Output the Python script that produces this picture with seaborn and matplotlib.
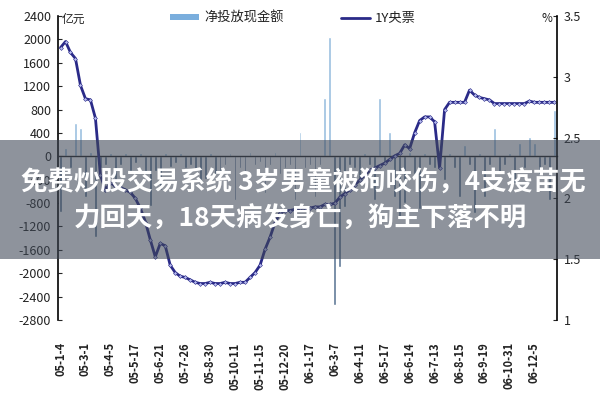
import matplotlib
matplotlib.use("Agg")
import numpy as np
import pandas as pd
import matplotlib.pyplot as plt
import seaborn as sns
from matplotlib.patches import Patch, Rectangle
from matplotlib.lines import Line2D

sns.set_style("white")
plt.rcParams["font.family"] = ["Noto Sans CJK SC", "DejaVu Sans"]
plt.rcParams["axes.unicode_minus"] = False

# weekly points, 2005-01 .. 2006-12
week = list(range(100))

# net cash injection (亿元)
net_cash = [
    -950, 150, -200, 570, 480, -700, 80, -1380, -200, -150,
    60, -460, -150, 50, -250, -120, 50, -300, -850, -250,
    -580, 60, -180, -120, 50, -200, -150, -250, -400, -380,
    60, -300, -530, -150, 50, -750, -200, -300, 80, -150,
    -100, -630, -150, 70, -300, -200, -150, -750, 410, -200,
    -150, -700, -150, 990, 2040, -2550, -1900, -870, -150, -200,
    -400, 60, -150, -750, 990, -150, 410, -700, -1040, -800,
    80, -300, -900, 60, -150, -200, 100, -400, 60, -200,
    -700, 190, -150, -970, 60, -700, -150, 480, -300, -150,
    50, -450, 220, -200, 325, 220, -300, -150, -750, 800,
]

# 1Y central bank bill yield (%)
yield_1y = [
    3.24, 3.29, 3.20, 3.15, 2.93, 2.82, 2.81, 2.66, 2.19, 2.07,
    2.13, 2.10, 2.09, 2.07, 2.05, 2.00, 1.92, 1.81, 1.66, 1.52,
    1.63, 1.61, 1.45, 1.39, 1.36, 1.35, 1.33, 1.31, 1.30, 1.30,
    1.31, 1.30, 1.30, 1.31, 1.30, 1.30, 1.31, 1.31, 1.35, 1.39,
    1.45, 1.58, 1.68, 1.80, 1.88, 1.90, 1.90, 1.91, 1.92, 1.92,
    1.92, 1.93, 1.93, 1.95, 1.95, 1.96, 2.01, 2.04, 2.07, 2.11,
    2.15, 2.19, 2.23, 2.25, 2.27, 2.29, 2.32, 2.35, 2.37, 2.44,
    2.41, 2.54, 2.64, 2.67, 2.67, 2.63, 2.25, 2.73, 2.79, 2.79,
    2.79, 2.79, 2.89, 2.85, 2.83, 2.82, 2.81, 2.78, 2.78, 2.78,
    2.78, 2.78, 2.78, 2.78, 2.80, 2.79, 2.79, 2.79, 2.79, 2.79,
]

date_labels = [
    "05-1-4", "05-3-1", "05-4-5", "05-5-17", "05-6-21", "05-7-26",
    "05-8-30", "05-10-11", "05-11-15", "05-12-20", "06-1-17", "06-3-7",
    "06-4-11", "06-5-17", "06-6-14", "06-7-13", "06-8-15", "06-9-19",
    "06-10-31", "06-12-5",
]
label_pos = week[::5]

left_ticks = [2400, 2000, 1600, 1200, 800, 400, 0, -400, -800, -1200,
              -1600, -2000, -2400, -2800]
left_tick_labels = [str(v) for v in left_ticks]
right_ticks = [1, 1.5, 2, 2.5, 3, 3.5]
right_tick_labels = ["1", "1.5", "2", "2.5", "3", "3.5"]

bar_pos = "#8fc0ea"
bar_neg = "#55789f"
line_col = "#2a2a88"
txt_col = "#222222"

df = pd.DataFrame({"week": week, "net": net_cash})
df["sign"] = np.where(df["net"] >= 0, "pos", "neg")

fig, ax = plt.subplots(figsize=(6, 4), dpi=100)
fig.subplots_adjust(left=0.0967, right=0.928, top=0.96, bottom=0.2)

sns.barplot(data=df, x="week", y="net", hue="sign",
            palette={"pos": bar_pos, "neg": bar_neg}, dodge=False,
            width=0.55, errorbar=None, legend=False, ax=ax)
ax.set_xlim(-0.5, 99.5)
ax.set_ylim(-2800, 2400)
ax.set_yticks(left_ticks, left_tick_labels)
ax.set_xlabel("")
ax.set_ylabel("")

# zero line with a tick for every week
ax.spines["bottom"].set_position(("data", 0))
ax.spines["bottom"].set_linewidth(1.0)
ax.spines["top"].set_visible(False)
ax.spines["right"].set_visible(False)
ax.spines["left"].set_linewidth(1.2)
ax.spines["left"].set_color("black")
ax.set_xticks(week)
ax.tick_params(axis="x", direction="inout", length=5, width=0.8,
               labelbottom=False)
ax.tick_params(axis="y", direction="in", length=3, pad=5,
               labelsize=9, labelcolor=txt_col)

sec = ax.secondary_xaxis("bottom")
sec.set_xticks(label_pos, date_labels, rotation=90)
sec.tick_params(length=0, pad=16, labelsize=8, labelcolor=txt_col)
for lbl in sec.get_xticklabels():
    lbl.set_fontweight("bold")
sec.spines["bottom"].set_visible(False)

ax2 = ax.twinx()
sns.lineplot(x=week, y=yield_1y, ax=ax2, color=line_col, lw=2.0,
             marker="D", markersize=2.0, markerfacecolor="#b8bdf0",
             markeredgecolor=line_col, markeredgewidth=0.4)
ax2.set_ylim(1, 3.5)
ax2.set_yticks(right_ticks, right_tick_labels)
ax2.set_ylabel("")
for s in ["top", "bottom", "left"]:
    ax2.spines[s].set_visible(False)
ax2.spines["right"].set_linewidth(1.2)
ax2.spines["right"].set_color("black")
ax2.tick_params(axis="y", direction="in", length=3, pad=5,
                labelsize=9, labelcolor=txt_col)

fig.text(62 / 600, 1 - 19 / 400, "亿元", fontsize=8.5, color=txt_col,
         ha="left", va="center")
fig.text(552 / 600, 1 - 19 / 400, "%", fontsize=8.5, color=txt_col,
         ha="right", va="center")

handles = [Patch(facecolor="#7aaedd", edgecolor="none"),
           Line2D([0], [0], color=line_col, lw=2.0)]
fig.legend(handles, ["净投放现金额", "1Y央票"], ncol=2, loc="center left",
           bbox_to_anchor=(170 / 600, 1 - 18 / 400), frameon=False,
           fontsize=9.5, handlelength=2.2, handleheight=0.4,
           handletextpad=0.4, columnspacing=4.3, borderpad=0,
           borderaxespad=0, labelcolor=txt_col)

# headline banner over the chart
fig.patches.append(Rectangle((0, 1 - 259 / 400), 1, 119 / 400,
                             transform=fig.transFigure, facecolor="#3d4655",
                             alpha=0.58, edgecolor="none", zorder=10))
fig.text(0.505, 1 - 183 / 400, "免费炒股交易系统 3岁男童被狗咬伤，4支疫苗无",
         fontsize=19, fontweight="bold", color="white", ha="center",
         va="center", zorder=11)
fig.text(0.5, 1 - 219 / 400, "力回天，18天病发身亡，狗主下落不明",
         fontsize=19, fontweight="bold", color="white", ha="center",
         va="center", zorder=11)

fig.savefig("out.png", dpi=100)
